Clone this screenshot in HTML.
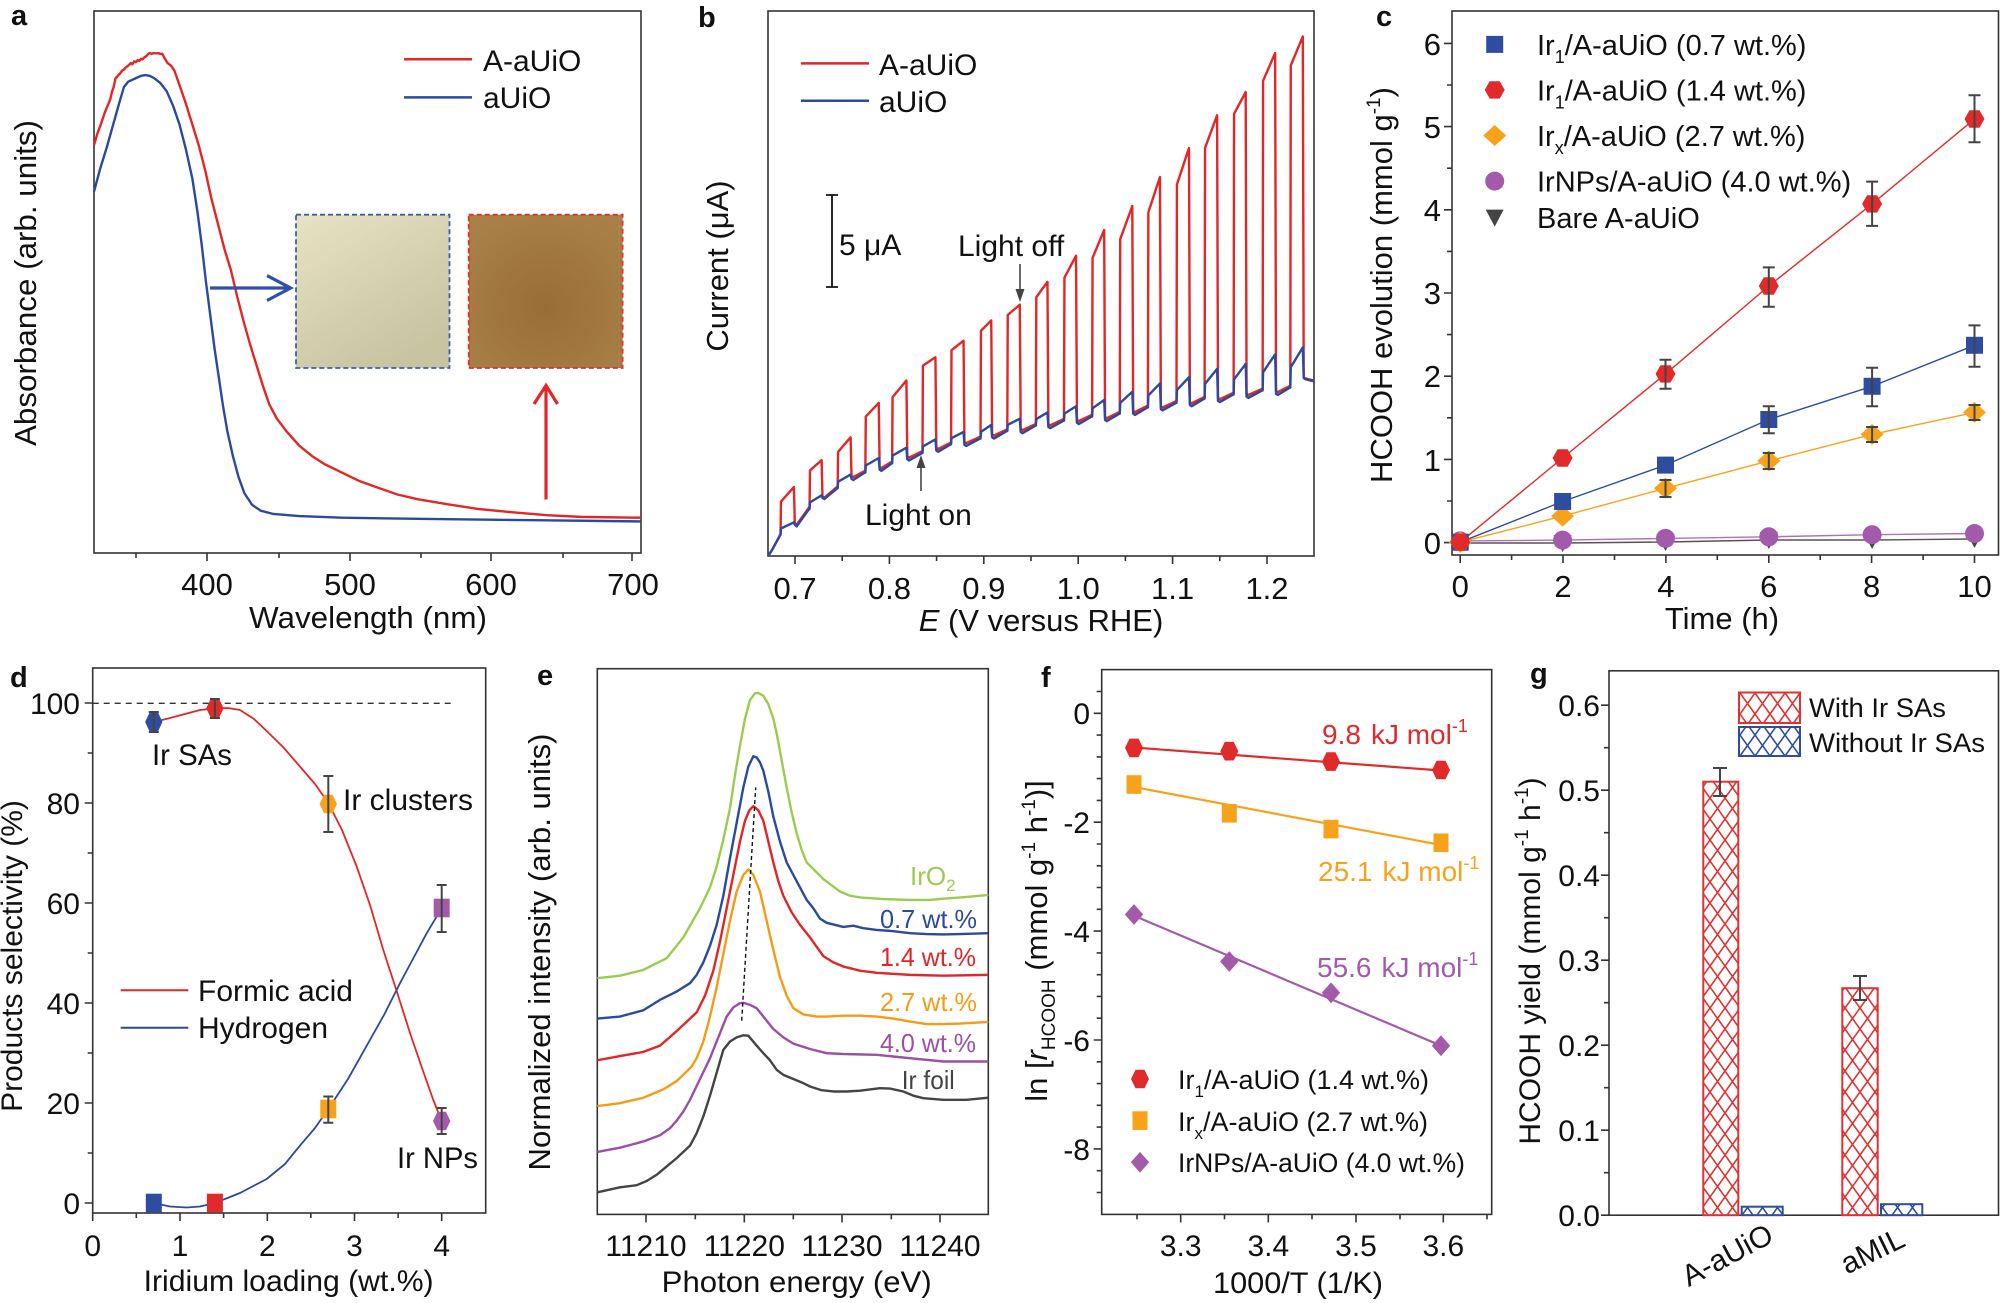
<!DOCTYPE html>
<html><head><meta charset="utf-8">
<style>
html,body{margin:0;padding:0;background:#fff;}
svg{display:block;}
text{font-family:"Liberation Sans",Arial,sans-serif;fill:#111;}
.b{font-weight:bold;}
</style></head><body>
<svg width="2001" height="1303" viewBox="0 0 2001 1303" xmlns="http://www.w3.org/2000/svg">
<defs>
<linearGradient id="pale" x1="0" y1="0" x2="0.6" y2="1"><stop offset="0" stop-color="#e6e3c4"/><stop offset="1" stop-color="#c8c3a1"/></linearGradient>
<radialGradient id="brown" cx="0.5" cy="0.6" r="0.7"><stop offset="0" stop-color="#9a6e37"/><stop offset="1" stop-color="#a98148"/></radialGradient>
<pattern id="hr" patternUnits="userSpaceOnUse" width="15" height="21"><path d="M-1,-1.4 L16,22.4 M16,-1.4 L-1,22.4" stroke="#e03232" stroke-width="1.6"/></pattern>
<pattern id="hb" patternUnits="userSpaceOnUse" width="15" height="21"><path d="M-1,-1.4 L16,22.4 M16,-1.4 L-1,22.4" stroke="#2e4da0" stroke-width="1.6"/></pattern>
<polygon id="hexT" points="10,0 5,-8.7 -5,-8.7 -10,0 -5,8.7 5,8.7" fill="#e12a2a"/>
<rect id="sqT" x="-8.5" y="-8.5" width="17" height="17" fill="#2e4da0"/>
<polygon id="diaT" points="0,-10.5 11.5,0 0,10.5 -11.5,0" fill="#f7a21b"/>
<circle id="cirT" r="9.5" fill="#a35aab"/>
<polygon id="triT" points="-9,-8 9,-8 0,9" fill="#444"/>
</defs>
<rect width="2001" height="1303" fill="#fff"/>

<!-- ================= PANEL A ================= -->
<text class="b" x="11" y="25" font-size="29">a</text>
<rect x="94" y="11" width="547" height="542" fill="none" stroke="#333" stroke-width="1.6"/>
<path d="M207,553v8 M350,553v8 M491,553v8 M632,553v8 M136,553v5 M279,553v5 M421,553v5 M563,553v5" stroke="#333" stroke-width="1.6"/>
<g font-size="31" text-anchor="middle">
<text x="207" y="595">400</text><text x="350" y="595">500</text><text x="491" y="595">600</text><text x="633" y="595">700</text>
<text x="368" y="628" textLength="238" lengthAdjust="spacingAndGlyphs">Wavelength (nm)</text>
<text transform="translate(36,283) rotate(-90)" textLength="326" lengthAdjust="spacingAndGlyphs">Absorbance (arb. units)</text>
</g>
<rect x="296" y="214.7" width="153.5" height="153.3" fill="url(#pale)" stroke="#3d5ab8" stroke-width="1.8" stroke-dasharray="5,3"/>
<rect x="468.7" y="214.7" width="153.9" height="153.3" fill="url(#brown)" stroke="#e03030" stroke-width="1.8" stroke-dasharray="5,3"/>
<g transform="translate(0,0) scale(0.4273,0.4145)" fill="none" stroke-linejoin="round">
<path vector-effect="non-scaling-stroke" stroke="#e32626" stroke-width="2.4" d="M220,350 L228,322 L236,300 L245,272 L252,255 L258,240 L262,222 L266,210 L270,190 L274,185 L278,180 L282,176 L286,170 L290,168 L294,163 L298,160 L302,157 L306,152 L310,155 L314,148 L318,150 L322,145 L326,147 L330,142 L334,143 L338,138 L342,136 L346,131 L350,128 L355,130 L360,128 L365,129 L370,128 L375,130 L380,130 L385,140 L392,152 L400,158 L408,170 L420,205 L435,250 L450,300 L465,350 L480,410 L495,480 L510,540 L525,600 L540,650 L555,715 L570,775 L585,830 L600,880 L615,930 L630,975 L648,1010 L670,1040 L700,1075 L730,1100 L760,1120 L800,1140 L840,1160 L880,1175 L930,1193 L980,1205 L1050,1217 L1120,1228 L1200,1236 L1280,1243 L1360,1247 L1500,1249"/>
<path vector-effect="non-scaling-stroke" stroke="#2b4a9e" stroke-width="2.4" d="M220,462 L235,405 L250,355 L265,300 L280,245 L290,210 L300,197 L315,190 L330,183 L340,181 L350,183 L360,188 L375,200 L390,220 L405,255 L420,300 L435,360 L450,430 L462,510 L472,590 L482,680 L492,760 L502,840 L512,910 L522,980 L532,1040 L545,1100 L558,1150 L572,1190 L590,1218 L610,1232 L640,1240 L700,1245 L800,1249 L1000,1252 L1250,1255 L1500,1258"/>
</g>
<path d="M210,288 L290,288 M267,275.6 L290.6,288 L267,300.5" fill="none" stroke="#3050a8" stroke-width="3.2"/>
<path d="M546,499.5 L546,387 M534,404 L546,385.5 L557.6,404" fill="none" stroke="#e32626" stroke-width="3.2"/>
<line x1="404" y1="59.3" x2="472" y2="59.3" stroke="#e32626" stroke-width="2.5"/>
<line x1="404" y1="97.4" x2="472" y2="97.4" stroke="#2b4a9e" stroke-width="2.5"/>
<text x="483" y="71" font-size="30">A-aUiO</text>
<text x="483" y="108" font-size="30">aUiO</text>

<!-- ================= PANEL B ================= -->
<text class="b" x="698" y="27" font-size="29">b</text>
<rect x="768" y="11" width="546" height="545" fill="none" stroke="#333" stroke-width="1.6"/>
<path d="M795,556v8 M889.4,556v8 M983.8,556v8 M1078.2,556v8 M1172.6,556v8 M1267,556v8 M842.2,556v5 M936.6,556v5 M1031,556v5 M1125.4,556v5 M1219.8,556v5" stroke="#333" stroke-width="1.6"/>
<g font-size="31" text-anchor="middle">
<text x="795" y="599">0.7</text><text x="889.4" y="599">0.8</text><text x="983.8" y="599">0.9</text><text x="1078.2" y="599">1.0</text><text x="1172.6" y="599">1.1</text><text x="1267" y="599">1.2</text>
<text x="1041" y="631"><tspan font-style="italic">E</tspan> (V versus RHE)</text>
<text transform="translate(728,266) rotate(-90)">Current (μA)</text>
</g>
<g transform="translate(660,0) scale(0.4464,0.4145)" fill="none" stroke-linejoin="round">
<path vector-effect="non-scaling-stroke" stroke="#e32626" stroke-width="2.4" d="M242,1342 L252,1325 L262,1305 L269,1291 L270,1290 L271,1210 L300,1175 L302,1262 L306,1266 L334,1224 L335,1224 L336,1135 L362,1110 L364,1198 L368,1201 L397,1174 L398,1174 L399,1090 L427,1055 L429,1148 L433,1151 L459,1136 L460,1136 L461,1005 L490,972 L492,1126 L496,1129 L519,1114 L520,1114 L521,958 L552,918 L554,1101 L558,1104 L587,1089 L588,1089 L589,882 L617,862 L619,1080 L623,1083 L651,1068 L652,1068 L653,845 L680,822 L682,1066 L686,1069 L717,1054 L718,1054 L719,798 L742,773 L744,1048 L748,1051 L777,1036 L778,1036 L779,760 L806,735 L808,1035 L812,1038 L841,1023 L842,1023 L843,717 L868,680 L870,1023 L874,1026 L904,1011 L905,1011 L906,670 L932,617 L934,1013 L938,1016 L967,1001 L968,1001 L969,622 L995,555 L997,1006 L1001,1009 L1029,994 L1030,994 L1031,577 L1058,497 L1060,991 L1064,994 L1092,979 L1093,979 L1094,512 L1120,427 L1122,980 L1126,983 L1156,968 L1157,968 L1158,445 L1185,357 L1187,970 L1191,973 L1219,958 L1220,958 L1221,357 L1248,278 L1250,960 L1254,963 L1284,948 L1285,948 L1286,275 L1312,222 L1314,950 L1318,953 L1349,938 L1350,938 L1351,195 L1378,128 L1380,943 L1384,946 L1411,931 L1412,931 L1413,158 L1440,88 L1442,910 L1446,913 L1465,918"/>
<path vector-effect="non-scaling-stroke" stroke="#2b4a9e" stroke-width="2.4" d="M242,1342 L252,1325 L262,1305 L269,1291 L270,1290 L271,1275 L300,1260 L302,1266 L306,1270 L334,1228 L335,1228 L336,1212 L362,1195 L364,1201 L368,1204 L397,1178 L398,1178 L399,1162 L427,1145 L429,1155 L433,1158 L459,1140 L460,1140 L461,1123 L490,1105 L492,1133 L496,1136 L519,1118 L520,1118 L521,1099 L552,1080 L554,1108 L558,1111 L587,1093 L588,1093 L589,1077 L617,1060 L619,1087 L623,1090 L651,1072 L652,1072 L653,1057 L680,1042 L682,1073 L686,1076 L717,1058 L718,1058 L719,1042 L742,1025 L744,1055 L748,1058 L777,1040 L778,1040 L779,1025 L806,1010 L808,1042 L812,1045 L841,1027 L842,1027 L843,1011 L868,995 L870,1030 L874,1033 L904,1015 L905,1015 L906,998 L932,980 L934,1020 L938,1023 L967,1005 L968,1005 L969,985 L995,965 L997,1013 L1001,1016 L1029,998 L1030,998 L1031,972 L1058,945 L1060,998 L1064,1001 L1092,983 L1093,983 L1094,954 L1120,925 L1122,987 L1126,990 L1156,972 L1157,972 L1158,941 L1185,910 L1187,977 L1191,980 L1219,962 L1220,962 L1221,926 L1248,890 L1250,967 L1254,970 L1284,952 L1285,952 L1286,915 L1312,878 L1314,957 L1318,960 L1349,942 L1350,942 L1351,898 L1378,855 L1380,950 L1384,953 L1411,935 L1412,935 L1413,886 L1440,838 L1442,912 L1446,915 L1465,920"/>
</g>
<line x1="801" y1="63.4" x2="869" y2="63.4" stroke="#e32626" stroke-width="2.5"/>
<line x1="801" y1="100.7" x2="869" y2="100.7" stroke="#2b4a9e" stroke-width="2.5"/>
<text x="879" y="75" font-size="30">A-aUiO</text>
<text x="879" y="112" font-size="30">aUiO</text>
<path d="M832,195 V287 M826,195 H838 M826,287 H838" stroke="#111" stroke-width="1.8" fill="none"/>
<text x="839" y="255" font-size="30">5 μA</text>
<text x="958" y="256" font-size="30">Light off</text>
<line x1="1020" y1="264" x2="1020" y2="292" stroke="#444" stroke-width="1.6"/>
<polygon points="1015.5,289 1024.5,289 1020,302" fill="#444"/>
<text x="865" y="525" font-size="30">Light on</text>
<line x1="921" y1="491" x2="921" y2="466" stroke="#444" stroke-width="1.6"/>
<polygon points="916.5,468 925.5,468 921,455" fill="#444"/>

<!-- ================= PANEL C ================= -->
<text class="b" x="1376" y="26" font-size="29">c</text>
<rect x="1452" y="11" width="546.5" height="544" fill="none" stroke="#333" stroke-width="1.6"/>
<path d="M1452,542.6h-8 M1452,459.4h-8 M1452,376.2h-8 M1452,293h-8 M1452,209.8h-8 M1452,126.6h-8 M1452,43.4h-8 M1452,501h-5 M1452,417.8h-5 M1452,334.6h-5 M1452,251.4h-5 M1452,168.2h-5 M1452,85h-5 M1460.2,555v8 M1563,555v8 M1665.9,555v8 M1768.8,555v8 M1871.6,555v8 M1974.5,555v8 M1511.6,555v5 M1614.5,555v5 M1717.3,555v5 M1820.2,555v5 M1923.1,555v5" stroke="#333" stroke-width="1.6"/>
<g font-size="31" text-anchor="end">
<text x="1441" y="554">0</text><text x="1441" y="471">1</text><text x="1441" y="387">2</text><text x="1441" y="304">3</text><text x="1441" y="221">4</text><text x="1441" y="138">5</text><text x="1441" y="55">6</text>
</g>
<g font-size="31" text-anchor="middle">
<text x="1460.2" y="597">0</text><text x="1563" y="597">2</text><text x="1665.9" y="597">4</text><text x="1768.8" y="597">6</text><text x="1871.6" y="597">8</text><text x="1974.5" y="597">10</text>
<text x="1722" y="629">Time (h)</text>
<text transform="translate(1392,285) rotate(-90)">HCOOH evolution (mmol g<tspan font-size="19" dy="-12">-1</tspan><tspan dy="12">)</tspan></text>
</g>
<g fill="none" stroke-width="1.4">
<polyline stroke="#555" points="1460.2,543 1562.6,543 1665.5,542 1768.8,540 1872.1,540 1974.5,539"/>
<polyline stroke="#b070b8" points="1460.2,540.9 1562.6,540.1 1665.5,538.4 1768.8,536.8 1872.1,534.7 1974.5,533.5"/>
<polyline stroke="#f7a21b" points="1460.2,542.2 1562.6,516.1 1665.5,488.3 1768.8,460.9 1872.1,434.4 1974.5,412.4"/>
<polyline stroke="#2e4da0" points="1460.2,542.2 1562.6,501.5 1665.5,465.1 1768.8,419.5 1872.1,386.3 1974.5,345.3"/>
<polyline stroke="#e12a2a" points="1460.2,542.2 1562.6,458 1665.5,373.9 1768.8,286 1872.1,203.9 1974.5,119"/>
</g>
<use href="#triT" x="1460.2" y="543"/><use href="#triT" x="1562.6" y="543"/><use href="#triT" x="1665.5" y="542"/><use href="#triT" x="1768.8" y="540"/><use href="#triT" x="1872.1" y="540"/><use href="#triT" x="1974.5" y="539"/>
<use href="#cirT" x="1460.2" y="540.9"/><use href="#cirT" x="1562.6" y="540.1"/><use href="#cirT" x="1665.5" y="538.4"/><use href="#cirT" x="1768.8" y="536.8"/><use href="#cirT" x="1872.1" y="534.7"/><use href="#cirT" x="1974.5" y="533.5"/>
<use href="#diaT" x="1460.2" y="542.2"/><use href="#diaT" x="1562.6" y="516.1"/><use href="#diaT" x="1665.5" y="488.3"/><use href="#diaT" x="1768.8" y="460.9"/><use href="#diaT" x="1872.1" y="434.4"/><use href="#diaT" x="1974.5" y="412.4"/>
<use href="#sqT" x="1460.2" y="542.2"/><use href="#sqT" x="1562.6" y="501.5"/><use href="#sqT" x="1665.5" y="465.1"/><use href="#sqT" x="1768.8" y="419.5"/><use href="#sqT" x="1872.1" y="386.3"/><use href="#sqT" x="1974.5" y="345.3"/>
<use href="#hexT" x="1460.2" y="542.2"/><use href="#hexT" x="1562.6" y="458"/><use href="#hexT" x="1665.5" y="373.9"/><use href="#hexT" x="1768.8" y="286"/><use href="#hexT" x="1872.1" y="203.9"/><use href="#hexT" x="1974.5" y="119"/>
<path stroke="#444" stroke-width="2" fill="none" d="M1665.5,359.8V388.8 M1659.5,359.8h12 M1659.5,388.8h12 M1768.8,267.4V306.7 M1762.8,267.4h12 M1762.8,306.7h12 M1872.1,181.6V225.9 M1866.1,181.6h12 M1866.1,225.9h12 M1974.5,95.3V142.2 M1968.5,95.3h12 M1968.5,142.2h12 M1768.8,406.2V433.2 M1762.8,406.2h12 M1762.8,433.2h12 M1872.1,367.7V406.2 M1866.1,367.7h12 M1866.1,406.2h12 M1974.5,325.4V366.8 M1968.5,325.4h12 M1968.5,366.8h12 M1665.5,480V497 M1659.5,480h12 M1659.5,497h12 M1768.8,453V469 M1762.8,453h12 M1762.8,469h12 M1872.1,427V442 M1866.1,427h12 M1866.1,442h12 M1974.5,405V420 M1968.5,405h12 M1968.5,420h12"/>
<use href="#sqT" x="1494.7" y="44.4"/>
<use href="#hexT" x="1494.7" y="89.9"/>
<use href="#diaT" x="1494.7" y="135.5"/>
<use href="#cirT" x="1494.7" y="181.1"/>
<use href="#triT" x="1494.7" y="217.6"/>
<g font-size="29">
<text x="1537" y="55">Ir<tspan font-size="18" dy="8">1</tspan><tspan dy="-8">/A-aUiO (0.7 wt.%)</tspan></text>
<text x="1537" y="100.5">Ir<tspan font-size="18" dy="8">1</tspan><tspan dy="-8">/A-aUiO (1.4 wt.%)</tspan></text>
<text x="1537" y="146">Ir<tspan font-size="18" dy="8">x</tspan><tspan dy="-8">/A-aUiO (2.7 wt.%)</tspan></text>
<text x="1537" y="191.5">IrNPs/A-aUiO (4.0 wt.%)</text>
<text x="1537" y="228">Bare A-aUiO</text>
</g>

<!-- ================= PANEL D ================= -->
<text class="b" x="10" y="687" font-size="29">d</text>
<rect x="92.7" y="668" width="393" height="545" fill="none" stroke="#333" stroke-width="1.6"/>
<path d="M92.7,1203h-8 M92.7,1103h-8 M92.7,1003h-8 M92.7,903h-8 M92.7,803h-8 M92.7,703h-8 M92.7,1153h-5 M92.7,1053h-5 M92.7,953h-5 M92.7,853h-5 M92.7,753h-5 M92.7,1213v8 M180,1213v8 M267.3,1213v8 M354.5,1213v8 M441.7,1213v8 M136.3,1213v5 M223.6,1213v5 M310.8,1213v5 M398.1,1213v5" stroke="#333" stroke-width="1.6"/>
<g font-size="30" text-anchor="end">
<text x="80" y="1214">0</text><text x="80" y="1114">20</text><text x="80" y="1014">40</text><text x="80" y="914">60</text><text x="80" y="814">80</text><text x="80" y="714">100</text>
</g>
<g font-size="30" text-anchor="middle">
<text x="92.7" y="1256">0</text><text x="180" y="1256">1</text><text x="267.3" y="1256">2</text><text x="354.5" y="1256">3</text><text x="441.7" y="1256">4</text>
<text x="288.6" y="1291" textLength="290" lengthAdjust="spacingAndGlyphs">Iridium loading (wt.%)</text>
<text transform="translate(22,956) rotate(-90)" font-size="30">Products selectivity (%)</text>
</g>
<line x1="92.7" y1="703.3" x2="453" y2="703.3" stroke="#333" stroke-width="1.3" stroke-dasharray="6,5"/>
<polyline fill="none" stroke="#e32626" stroke-width="1.8" stroke-linejoin="round" points="153.8,722 170,718 185,714 200,710 214.9,708.5 228,708 240,710 254,719 266.7,731 283,747 300,766.6 315,784 328.3,803 342,830 356.7,866.6 370,905 383.3,950 397,992 410,1033 422,1068 433.3,1100 441.7,1121"/>
<polyline fill="none" stroke="#2b4a9e" stroke-width="1.8" stroke-linejoin="round" points="153.8,1203 170,1206.5 186.7,1207.5 200,1206.5 214.9,1203 240,1193 266.7,1179 285,1164 300,1145.6 315,1128 328.3,1109 348,1079 366.7,1045.7 384,1015 400,983.2 414,957 426.7,933.2 441.7,908.2"/>
<polygon points="162.5,722 158.1,712.7 149.5,712.7 145.1,722 149.5,731.3 158.1,731.3" fill="#2e4da0"/>
<polygon points="223.6,708.3 219.2,699 210.6,699 206.2,708.3 210.6,717.6 219.2,717.6" fill="#e12a2a"/>
<polygon points="337,804 332.6,794.7 324,794.7 319.6,804 324,813.3 332.6,813.3" fill="#f7a21b"/>
<polygon points="450.4,1121 446,1111.7 437.4,1111.7 433,1121 437.4,1130.3 446,1130.3" fill="#a35aab"/>
<rect x="145.8" y="1193.7" width="16" height="18.6" fill="#2e4da0"/>
<rect x="206.9" y="1193.7" width="16" height="18.6" fill="#e12a2a"/>
<rect x="320.3" y="1099.7" width="16" height="18.6" fill="#f7a21b"/>
<rect x="433.7" y="898.7" width="16" height="18.6" fill="#a35aab"/>
<path stroke="#444" stroke-width="2" fill="none" d="M153.8,712V732 M148.8,712h10 M148.8,732h10 M214.9,699V718 M209.9,699h10 M209.9,718h10 M328.3,776V832 M323.3,776h10 M323.3,832h10 M441.7,1108V1134 M436.7,1108h10 M436.7,1134h10 M441.7,885V932 M436.7,885h10 M436.7,932h10 M328.3,1096.5V1122.7 M323.3,1096.5h10 M323.3,1122.7h10"/>
<g font-size="30" fill="#555">
<text x="152" y="765" fill="#555" textLength="80" lengthAdjust="spacingAndGlyphs">Ir SAs</text>
<text x="343" y="810" fill="#555" textLength="130" lengthAdjust="spacingAndGlyphs">Ir clusters</text>
<text x="397" y="1168" fill="#555" textLength="81" lengthAdjust="spacingAndGlyphs">Ir NPs</text>
</g>
<line x1="120.7" y1="990.3" x2="188.3" y2="990.3" stroke="#e32626" stroke-width="2"/>
<line x1="120.7" y1="1027.8" x2="188.3" y2="1027.8" stroke="#2b4a9e" stroke-width="2"/>
<text x="198" y="1001" font-size="30" textLength="155" lengthAdjust="spacingAndGlyphs">Formic acid</text>
<text x="198" y="1038" font-size="30" textLength="130" lengthAdjust="spacingAndGlyphs">Hydrogen</text>

<!-- ================= PANEL E ================= -->
<text class="b" x="537" y="685" font-size="29">e</text>
<rect x="597.3" y="668.7" width="391" height="545.7" fill="none" stroke="#333" stroke-width="1.6"/>
<path d="M646,1214.4v8 M744.3,1214.4v8 M842,1214.4v8 M940,1214.4v8 M695.3,1214.4v5 M793.3,1214.4v5 M891.3,1214.4v5" stroke="#333" stroke-width="1.6"/>
<g font-size="30" text-anchor="middle">
<text x="646" y="1256">11210</text><text x="744.3" y="1256">11220</text><text x="842" y="1256">11230</text><text x="940" y="1256">11240</text>
<text x="796.7" y="1292" textLength="270" lengthAdjust="spacingAndGlyphs">Photon energy (eV)</text>
<text transform="translate(550,952) rotate(-90)" font-size="31" textLength="437" lengthAdjust="spacingAndGlyphs">Normalized intensity (arb. units)</text>
</g>
<g transform="translate(510,650) scale(0.33333,0.4165)" fill="none" stroke-linejoin="round">
<path vector-effect="non-scaling-stroke" stroke="#9ccc4f" stroke-width="2.4" d="M262,788 L330,782 L400,768 L470,740 L520,690 L570,620 L600,570 L620,520 L640,455 L660,380 L675,300 L690,230 L705,165 L720,120 L735,104 L745,103 L760,110 L775,130 L790,165 L800,200 L815,265 L830,330 L845,390 L860,440 L875,480 L890,510 L915,530 L940,550 L965,565 L990,580 L1020,590 L1050,594 L1120,598 L1200,600 L1260,600 L1300,597 L1370,593 L1435,588"/>
<path vector-effect="non-scaling-stroke" stroke="#2b4a9e" stroke-width="2.4" d="M262,885 L330,880 L400,865 L450,840 L500,820 L540,800 L560,780 L580,750 L600,710 L620,660 L640,590 L660,500 L680,415 L700,330 L715,280 L730,255 L740,258 L750,270 L760,290 L775,340 L790,400 L810,460 L830,510 L850,540 L870,570 L890,600 L910,620 L930,645 L950,655 L1000,665 L1030,662 L1060,668 L1100,672 L1150,675 L1200,680 L1250,682 L1300,683 L1350,682 L1435,680"/>
<path vector-effect="non-scaling-stroke" stroke="#e02626" stroke-width="2.4" d="M262,985 L330,975 L400,965 L450,950 L500,915 L540,885 L560,870 L585,830 L610,770 L630,700 L650,620 L670,540 L690,460 L705,410 L718,385 L730,375 L745,385 L760,410 L775,460 L790,510 L805,555 L820,590 L845,630 L870,660 L900,690 L940,735 L970,750 L1000,760 L1050,770 L1100,775 L1200,780 L1300,782 L1435,780"/>
<path vector-effect="non-scaling-stroke" stroke="#f79a15" stroke-width="2.4" d="M262,1095 L330,1088 L400,1075 L460,1055 L500,1035 L520,1020 L545,1000 L560,980 L580,940 L600,880 L620,810 L640,730 L660,650 L680,580 L700,540 L715,527 L730,540 L750,580 L770,650 L790,720 L810,785 L830,830 L850,860 L880,875 L920,880 L950,880 L1000,878 L1050,878 L1100,880 L1150,885 L1200,892 L1250,898 L1300,898 L1350,897 L1435,893"/>
<path vector-effect="non-scaling-stroke" stroke="#9b4fa6" stroke-width="2.4" d="M262,1205 L330,1195 L400,1180 L450,1165 L480,1148 L500,1130 L520,1108 L540,1080 L570,1030 L600,980 L625,930 L650,880 L670,858 L690,848 L700,847 L720,852 L740,860 L765,885 L790,910 L820,930 L850,945 L900,958 L950,968 L1000,970 L1100,972 L1150,976 L1200,980 L1300,988 L1435,988"/>
<path vector-effect="non-scaling-stroke" stroke="#444" stroke-width="2.4" d="M262,1302 L330,1290 L380,1285 L410,1275 L440,1260 L470,1240 L500,1220 L520,1205 L540,1190 L560,1160 L580,1120 L600,1070 L620,1015 L640,960 L660,940 L680,930 L700,925 L715,926 L740,950 L760,968 L780,985 L800,1008 L820,1020 L850,1030 L880,1040 L900,1048 L935,1057 L970,1060 L1010,1060 L1050,1058 L1080,1055 L1110,1052 L1140,1053 L1180,1060 L1210,1070 L1240,1076 L1300,1080 L1370,1080 L1435,1075"/>
</g>
<line x1="741.7" y1="1020.7" x2="755.7" y2="787.4" stroke="#111" stroke-width="1.4" stroke-dasharray="4,3"/>
<g font-size="26">
<text x="910" y="885" style="fill:#9ccc4f">IrO<tspan font-size="17" dy="6">2</tspan></text>
<text x="880" y="928" style="fill:#2b4a9e" textLength="97" lengthAdjust="spacingAndGlyphs">0.7 wt.%</text>
<text x="880" y="966" style="fill:#e02626" textLength="96" lengthAdjust="spacingAndGlyphs">1.4 wt.%</text>
<text x="880" y="1011" style="fill:#f79a15" textLength="97" lengthAdjust="spacingAndGlyphs">2.7 wt.%</text>
<text x="880" y="1052" style="fill:#9b4fa6" textLength="96" lengthAdjust="spacingAndGlyphs">4.0 wt.%</text>
<text x="901.7" y="1089" style="fill:#444" textLength="53" lengthAdjust="spacingAndGlyphs">Ir foil</text>
</g>

<!-- ================= PANEL F ================= -->
<text class="b" x="1041" y="687" font-size="29">f</text>
<rect x="1101.7" y="669.6" width="390" height="544.8" fill="none" stroke="#333" stroke-width="1.6"/>
<path stroke="#333" stroke-width="1.6" d="M1101.7,713.3h-8 M1101.7,822.2h-8 M1101.7,931.1h-8 M1101.7,1040h-8 M1101.7,1148.9h-8 M1101.7,691.5h-5 M1101.7,735.1h-5 M1101.7,756.9h-5 M1101.7,778.6h-5 M1101.7,800.4h-5 M1101.7,844h-5 M1101.7,865.8h-5 M1101.7,887.5h-5 M1101.7,909.3h-5 M1101.7,952.9h-5 M1101.7,974.7h-5 M1101.7,996.4h-5 M1101.7,1018.2h-5 M1101.7,1061.8h-5 M1101.7,1083.6h-5 M1101.7,1105.3h-5 M1101.7,1127.1h-5 M1101.7,1170.7h-5 M1101.7,1192.5h-5 M1180.7,1214.4v8 M1268.3,1214.4v8 M1356,1214.4v8 M1443.3,1214.4v8 M1137,1214.4v5 M1224.5,1214.4v5 M1312,1214.4v5 M1400,1214.4v5 M1487,1214.4v5"/>
<g font-size="30" text-anchor="end">
<text x="1090" y="724">0</text><text x="1090" y="833">-2</text><text x="1090" y="942">-4</text><text x="1090" y="1051">-6</text><text x="1090" y="1160">-8</text>
</g>
<g font-size="30" text-anchor="middle">
<text x="1180.7" y="1256">3.3</text><text x="1268.3" y="1256">3.4</text><text x="1356" y="1256">3.5</text><text x="1443.3" y="1256">3.6</text>
<text x="1298" y="1293" textLength="170" lengthAdjust="spacingAndGlyphs">1000/T (1/K)</text>
<text transform="translate(1047,941) rotate(-90)" font-size="31">ln [<tspan font-style="italic">r</tspan><tspan font-size="19" dy="8">HCOOH</tspan><tspan dy="-8"> (mmol g</tspan><tspan font-size="19" dy="-12">-1</tspan><tspan dy="12"> h</tspan><tspan font-size="19" dy="-12">-1</tspan><tspan dy="12">)]</tspan></text>
</g>
<g stroke-width="2.2">
<line x1="1134" y1="747.5" x2="1441" y2="770.5" stroke="#e12a2a"/>
<line x1="1134" y1="787" x2="1441" y2="845" stroke="#f7a21b"/>
<line x1="1134" y1="915.7" x2="1441" y2="1045.7" stroke="#a35aab"/>
</g>
<g fill="#e12a2a">
<polygon points="1143,747.9 1138.5,738.6 1129.5,738.6 1125,747.9 1129.5,757.2 1138.5,757.2"/>
<polygon points="1238.3,751.2 1233.8,741.9 1224.8,741.9 1220.3,751.2 1224.8,760.5 1233.8,760.5"/>
<polygon points="1340,761.6 1335.5,752.3 1326.5,752.3 1322,761.6 1326.5,770.9 1335.5,770.9"/>
<polygon points="1450,770 1445.5,760.7 1436.5,760.7 1432,770 1436.5,779.3 1445.5,779.3"/>
</g>
<g fill="#f7a21b">
<rect x="1126.5" y="775.2" width="15" height="18.6"/>
<rect x="1221.8" y="804" width="15" height="18.6"/>
<rect x="1323.5" y="819.8" width="15" height="18.6"/>
<rect x="1433.5" y="833.5" width="15" height="18.6"/>
</g>
<g fill="#a35aab">
<polygon points="1134,904.1 1143.2,914.5 1134,924.9 1124.8,914.5"/>
<polygon points="1229.3,951.1 1238.5,961.5 1229.3,971.9 1220.1,961.5"/>
<polygon points="1331,982.4 1340.2,992.8 1331,1003.2 1321.8,992.8"/>
<polygon points="1441,1035.3 1450.2,1045.7 1441,1056.1 1431.8,1045.7"/>
</g>
<g font-size="28">
<text x="1322" y="744" style="fill:#e12a2a">9.8<tspan dx="10">kJ mol</tspan><tspan font-size="18" dy="-12">-1</tspan></text>
<text x="1318" y="881" style="fill:#f7a21b">25.1<tspan dx="10">kJ mol</tspan><tspan font-size="18" dy="-12">-1</tspan></text>
<text x="1317" y="977" style="fill:#a35aab">55.6<tspan dx="10">kJ mol</tspan><tspan font-size="18" dy="-12">-1</tspan></text>
</g>
<polygon points="1149,1079 1144.5,1069.7 1135.5,1069.7 1131,1079 1135.5,1088.3 1144.5,1088.3" fill="#e12a2a"/>
<rect x="1132.5" y="1111.3" width="15" height="18.6" fill="#f7a21b"/>
<polygon points="1140,1151.9 1149.2,1162.3 1140,1172.7 1130.8,1162.3" fill="#a35aab"/>
<g font-size="27">
<text x="1178" y="1089">Ir<tspan font-size="17" dy="8">1</tspan><tspan dy="-8">/A-aUiO (1.4 wt.%)</tspan></text>
<text x="1178" y="1131">Ir<tspan font-size="17" dy="8">x</tspan><tspan dy="-8">/A-aUiO (2.7 wt.%)</tspan></text>
<text x="1178" y="1172" textLength="287" lengthAdjust="spacingAndGlyphs">IrNPs/A-aUiO (4.0 wt.%)</text>
</g>

<!-- ================= PANEL G ================= -->
<text class="b" x="1530" y="683" font-size="29">g</text>
<rect x="1609" y="670.8" width="389.5" height="544.4" fill="none" stroke="#333" stroke-width="1.6"/>
<path stroke="#333" stroke-width="1.6" d="M1609,1215.2h-8 M1609,1130.2h-8 M1609,1045.2h-8 M1609,960.2h-8 M1609,875.2h-8 M1609,790.2h-8 M1609,705.2h-8 M1609,1172.7h-5 M1609,1087.7h-5 M1609,1002.7h-5 M1609,917.7h-5 M1609,832.7h-5 M1609,747.7h-5"/>
<g font-size="30" text-anchor="end">
<text x="1600" y="1226">0.0</text><text x="1600" y="1141">0.1</text><text x="1600" y="1056">0.2</text><text x="1600" y="971">0.3</text><text x="1600" y="886">0.4</text><text x="1600" y="801">0.5</text><text x="1600" y="716">0.6</text>
</g>
<text transform="translate(1540,961) rotate(-90)" text-anchor="middle" font-size="30">HCOOH yield (mmol g<tspan font-size="19" dy="-12">-1</tspan><tspan dy="12"> h</tspan><tspan font-size="19" dy="-12">-1</tspan><tspan dy="12">)</tspan></text>
<rect x="1703.3" y="781.7" width="35" height="433.5" fill="url(#hr)" stroke="#e03232" stroke-width="2"/>
<rect x="1741.7" y="1206.7" width="41" height="8.5" fill="url(#hb)" stroke="#2e4da0" stroke-width="2"/>
<rect x="1842.3" y="988.2" width="35.4" height="227" fill="url(#hr)" stroke="#e03232" stroke-width="2"/>
<rect x="1881" y="1204.2" width="41.3" height="11" fill="url(#hb)" stroke="#2e4da0" stroke-width="2"/>
<path stroke="#444" stroke-width="2" fill="none" d="M1720,768V796 M1713,768h14 M1713,796h14 M1860,976V1000 M1853,976h14 M1853,1000h14"/>
<rect x="1739" y="692.5" width="61" height="30.5" fill="url(#hr)" stroke="#e03232" stroke-width="2"/>
<rect x="1739" y="727" width="61" height="29" fill="url(#hb)" stroke="#2e4da0" stroke-width="2"/>
<text x="1809" y="717" font-size="27" textLength="137" lengthAdjust="spacingAndGlyphs">With Ir SAs</text>
<text x="1809" y="752" font-size="27" textLength="176" lengthAdjust="spacingAndGlyphs">Without Ir SAs</text>
<text transform="translate(1732,1264) rotate(-28)" text-anchor="middle" font-size="30">A-aUiO</text>
<text transform="translate(1877,1260) rotate(-26)" text-anchor="middle" font-size="30">aMIL</text>
</svg>
</body></html>
